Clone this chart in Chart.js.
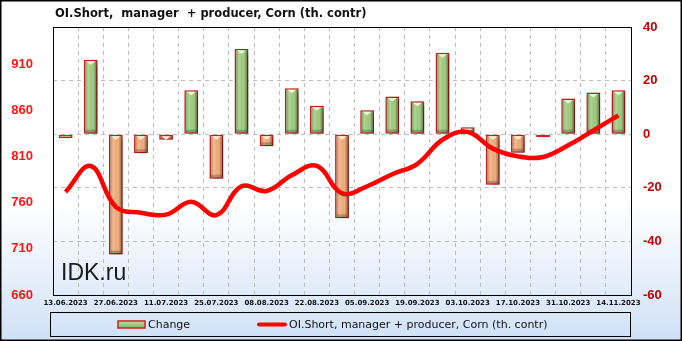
<!DOCTYPE html>
<html>
<head>
<meta charset="utf-8">
<script src="https://cdn.jsdelivr.net/npm/chart.js@4.4.0/dist/chart.umd.min.js"></script>
<style>
  html, body { margin: 0; padding: 0; background: #fff; }
  #wrap { width: 682px; height: 341px; }
</style>
</head>
<body>
<div id="wrap"><canvas id="chart" width="682" height="341"></canvas></div>
<script>
// dates (weekly COT reports)
const dates = ['13.06.2023', '20.06.2023', '27.06.2023', '04.07.2023', '11.07.2023', '18.07.2023',
  '25.07.2023', '01.08.2023', '08.08.2023', '15.08.2023', '22.08.2023', '29.08.2023',
  '05.09.2023', '12.09.2023', '19.09.2023', '26.09.2023', '03.10.2023', '10.10.2023',
  '17.10.2023', '24.10.2023', '31.10.2023', '07.11.2023', '14.11.2023'];

// weekly change, right axis
const change = [-1.5, 27.8, -44.9, -7.1, -2.1, 16.4, -16.6, 31.8, -4.5, 17.1, 10.6, -31.4,
  8.9, 14.1, 12.3, 30.4, 2.6, -18.9, -6.9, -0.3, 13.3, 15.6, 16.4];

// OI short, manager + producer, left axis
const oiShort = [771.5, 799.6, 755.4, 748.9, 747, 760.8, 746.4, 777.7, 772.6, 789.6, 799.6, 770,
  777.7, 790.7, 802, 828, 836.4, 818.4, 810, 809.4, 822, 838, 854.4];

const leftTicks = [660, 710, 760, 810, 860, 910];
const rightTicks = [-60, -40, -20, 0, 20, 40];

const titleText = 'OI.Short,  manager  + producer, Corn (th. contr)';
const lineLabel = 'OI.Short, manager + producer, Corn (th. contr)';

// background, frames, title, watermark, legend
const decor = {
  id: 'decor',
  beforeDraw(chart) {
    const ctx = chart.ctx, w = chart.width, h = chart.height;
    const g = ctx.createLinearGradient(0, 0, 0, h);
    g.addColorStop(0, '#ffffff');
    g.addColorStop(0.6, '#ffffff');
    g.addColorStop(1, '#d0e1f7');
    ctx.save();
    ctx.fillStyle = g;
    ctx.fillRect(0, 0, w, h);
    ctx.restore();
  },
  beforeDatasetsDraw(chart) {
    const ctx = chart.ctx;
    ctx.save();
    ctx.font = '23px "Liberation Sans", Arial, sans-serif';
    ctx.fillStyle = '#1a1a1a';
    ctx.textBaseline = 'alphabetic';
    ctx.fillText('IDK.ru', 61, 280);
    ctx.restore();
  },
  afterDraw(chart) {
    const ctx = chart.ctx, a = chart.chartArea;
    ctx.save();
    // plot border
    ctx.strokeStyle = '#000';
    ctx.lineWidth = 1;
    ctx.strokeRect(Math.round(a.left) + 0.5, Math.round(a.top) + 0.5,
      Math.round(a.right - a.left), Math.round(a.bottom - a.top));
    // outer frame
    ctx.lineWidth = 1.5;
    ctx.strokeRect(0.75, 0.75, chart.width - 1.5, chart.height - 1.5);

    // title
    ctx.font = 'bold 11.5px "DejaVu Sans", Verdana, sans-serif';
    ctx.fillStyle = '#111';
    ctx.textBaseline = 'middle';
    ctx.fillText(titleText, 55, 14);

    // legend box
    ctx.lineWidth = 1;
    ctx.strokeRect(50.5, 312.5, 580, 24);
    ctx.font = '11px "DejaVu Sans", Verdana, sans-serif';
    // bar swatch
    const sg = ctx.createLinearGradient(0, 321, 0, 328);
    sg.addColorStop(0, '#c4e0aa');
    sg.addColorStop(1, '#86b266');
    ctx.fillStyle = sg;
    ctx.fillRect(118, 321, 27, 7);
    ctx.strokeStyle = '#d42020';
    ctx.lineWidth = 1.5;
    ctx.strokeRect(118, 321, 27, 7);
    ctx.fillStyle = '#111';
    ctx.fillText(chart.data.datasets[1].label, 148, 325);
    // line swatch
    ctx.strokeStyle = '#ff0000';
    ctx.lineWidth = 4;
    ctx.lineCap = 'round';
    ctx.beginPath();
    ctx.moveTo(259, 324.5);
    ctx.lineTo(285, 324.5);
    ctx.stroke();
    ctx.fillText(chart.data.datasets[0].label, 289, 325);
    ctx.restore();
  }
};

// shadow + bevel on the bars
const barLook = {
  id: 'barLook',
  beforeDatasetDraw(chart, args) {
    if (args.meta.type !== 'bar') return;
    const ctx = chart.ctx;
    ctx.save();
    ctx.shadowColor = 'rgba(0,0,0,0.55)';
    ctx.shadowBlur = 7;
    ctx.shadowOffsetX = 3;
    ctx.shadowOffsetY = 2;
  },
  afterDatasetDraw(chart, args) {
    if (args.meta.type !== 'bar') return;
    const ctx = chart.ctx;
    ctx.restore();
    ctx.save();
    args.meta.data.forEach((el, i) => {
      const p = el.getProps(['x', 'y', 'base', 'width'], true);
      const top = Math.min(p.y, p.base), bot = Math.max(p.y, p.base);
      const l = p.x - p.width / 2 + 1.5, r = p.x + p.width / 2 - 1.5;
      if (bot - top < 4) return;
      const hg = ctx.createLinearGradient(l, 0, r, 0);
      hg.addColorStop(0, 'rgba(0,0,0,0.22)');
      hg.addColorStop(0.3, 'rgba(255,255,255,0.12)');
      hg.addColorStop(0.75, 'rgba(0,0,0,0.02)');
      hg.addColorStop(1, 'rgba(0,0,0,0.35)');
      ctx.fillStyle = hg;
      ctx.fillRect(l, top + 1.5, r - l, bot - top - 3);
      // bottom band
      ctx.fillStyle = 'rgba(0,0,0,0.22)';
      ctx.fillRect(l, bot - 4, r - l, 2.5);
      // small triangle at the top end
      ctx.fillStyle = change[i] >= 0 ? '#eef8d8' : '#fff0dc';
      ctx.beginPath();
      ctx.moveTo(l + 1, top + 1.5);
      ctx.lineTo(r - 1, top + 1.5);
      ctx.lineTo(p.x, top + 5);
      ctx.closePath();
      ctx.fill();
    });
    ctx.restore();
  }
};

const ctx = document.getElementById('chart').getContext('2d');
const chart = new Chart(ctx, {
  type: 'bar',
  data: {
    labels: dates,
    datasets: [
      {
        type: 'line',
        label: lineLabel,
        data: oiShort,
        yAxisID: 'yL',
        borderColor: '#ff0000',
        borderWidth: 4.5,
        pointRadius: 0,
        tension: 0.4,
        fill: false,
        order: 0
      },
      {
        label: 'Change',
        data: change,
        yAxisID: 'yR',
        backgroundColor: change.map(v => v >= 0 ? '#a3cf83' : '#f4b07e'),
        borderColor: '#d42020',
        borderWidth: 1.5,
        borderSkipped: false,
        minBarLength: 3,
        barPercentage: 1,
        categoryPercentage: 0.55,
        order: 1
      }
    ]
  },
  options: {
    responsive: false,
    animation: false,
    layout: { padding: { top: 27, bottom: 30, left: 0, right: 0 } },
    plugins: {
      legend: { display: false },
      title: { display: false },
      tooltip: { enabled: false }
    },
    scales: {
      x: {
        grid: { color: '#bdbdbd', drawTicks: false, offset: true },
        border: { display: false, dash: [4, 4] },
        ticks: {
          autoSkip: false,
          maxRotation: 0,
          padding: 4,
          color: '#111',
          font: { family: '"DejaVu Sans", Verdana, sans-serif', size: 7, weight: 'bold' },
          callback: (v, i) => i % 2 === 0 ? dates[i] : ''
        },
        afterFit: s => { s.height = 16; }
      },
      yL: {
        position: 'left',
        min: 660,
        max: 950,
        grid: { display: false },
        border: { display: false },
        afterBuildTicks: s => { s.ticks = leftTicks.map(v => ({ value: v })); },
        ticks: {
          padding: 12,
          color: '#ff1414',
          font: { family: '"Liberation Sans", Arial, sans-serif', size: 13, weight: 'bold' }
        },
        afterFit: s => { s.width = 53; }
      },
      yR: {
        position: 'right',
        min: -60,
        max: 40,
        grid: { color: '#bdbdbd', drawTicks: false },
        border: { display: false, dash: [4, 4] },
        afterBuildTicks: s => { s.ticks = rightTicks.map(v => ({ value: v })); },
        ticks: {
          padding: 12,
          color: '#c00000',
          font: { family: '"Liberation Sans", Arial, sans-serif', size: 13, weight: 'bold' }
        },
        afterFit: s => { s.width = 51; }
      }
    }
  },
  plugins: [decor, barLook]
});
</script>
</body>
</html>
